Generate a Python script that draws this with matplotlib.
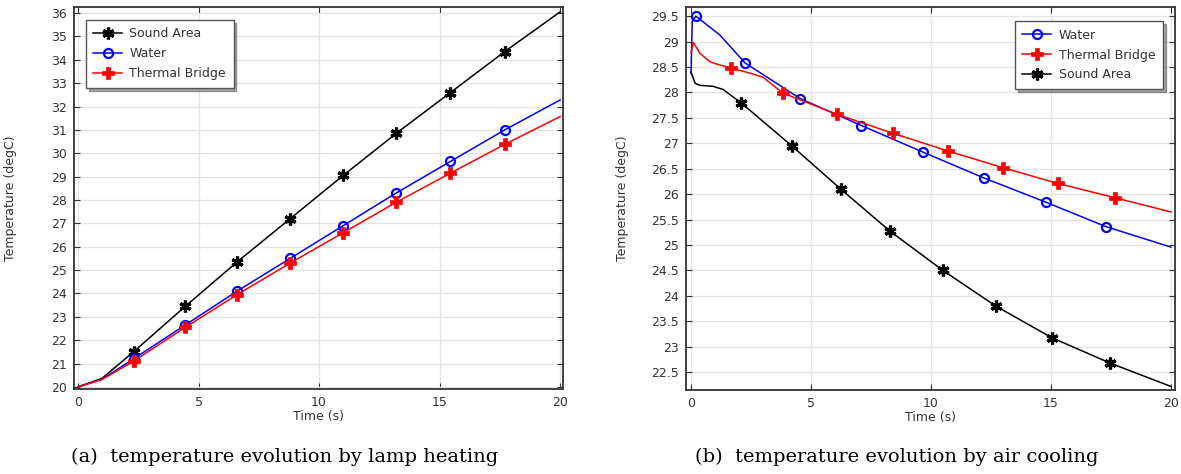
import matplotlib
matplotlib.use("Agg")
import matplotlib.pyplot as plt

# ---- (a) lamp heating ----
heat_t = [0, 1.0, 2.3, 4.45, 6.6, 8.8, 11.0, 13.2, 15.45, 17.7, 20]
heat_sound = [20.0, 20.37, 21.5, 23.45, 25.35, 27.2, 29.05, 30.85, 32.6, 34.35, 36.05]
heat_water = [20.0, 20.33, 21.2, 22.65, 24.1, 25.5, 26.9, 28.3, 29.65, 31.0, 32.28]
heat_bridge = [20.0, 20.32, 21.1, 22.55, 23.95, 25.3, 26.6, 27.9, 29.15, 30.38, 31.57]
heat_marks = [2, 3, 4, 5, 6, 7, 8, 9]

# ---- (b) air cooling ----
cool_water_t = [0, 0.05, 0.2, 1.2, 2.25, 4.55, 7.1, 9.65, 12.2, 14.8, 17.3, 20]
cool_water = [28.38, 29.4, 29.5, 29.13, 28.58, 27.88, 27.35, 26.83, 26.32, 25.84, 25.36, 24.96]
cool_water_marks = [2, 4, 5, 6, 7, 8, 9, 10]

cool_bridge_t = [0, 0.1, 0.37, 0.8, 1.2, 1.67, 2.3, 3.0, 3.82, 6.08, 8.4, 10.7, 13.0, 15.3, 17.67, 20]
cool_bridge = [28.78, 28.98, 28.77, 28.6, 28.54, 28.48, 28.4, 28.3, 27.99, 27.57, 27.2, 26.85, 26.52, 26.21, 25.93, 25.65]
cool_bridge_marks = [5, 8, 9, 10, 11, 12, 13, 14]

cool_sound_t = [0, 0.17, 0.37, 0.92, 1.33, 2.1, 4.2, 6.24, 8.3, 10.5, 12.7, 15.03, 17.46, 20]
cool_sound = [28.4, 28.18, 28.14, 28.12, 28.06, 27.79, 26.95, 26.1, 25.27, 24.5, 23.8, 23.18, 22.68, 22.22]
cool_sound_marks = [5, 6, 7, 8, 9, 10, 11, 12]

captions = ["(a)  temperature evolution by lamp heating",
            "(b)  temperature evolution by air cooling"]

star = dict(color="black", marker=(6, 2, 0), ms=8.5, mew=2.3, lw=1.1)
circ = dict(color="#0000ff", marker="o", ms=6.5, mfc="none", mew=1.6, lw=1.1)
plus = dict(color="#ff0000", marker="P", ms=8, mew=0.5, lw=1.1)

fig = plt.figure(figsize=(11.81, 4.74), dpi=100)
ax1 = fig.add_axes([74/1181, 1-389/474, 489/1181, 382/474])
ax2 = fig.add_axes([686/1181, 1-390/474, 489/1181, 383/474])

ax1.plot(heat_t, heat_sound, markevery=heat_marks, label="Sound Area", **star)
ax1.plot(heat_t, heat_water, markevery=heat_marks, label="Water", **circ)
ax1.plot(heat_t, heat_bridge, markevery=heat_marks, label="Thermal Bridge", **plus)
ax1.set_xlim(-0.17, 20.12)
ax1.set_ylim(19.91, 36.26)
ax1.set_yticks(range(20, 37))

ax2.plot(cool_water_t, cool_water, markevery=cool_water_marks, label="Water", **circ)
ax2.plot(cool_bridge_t, cool_bridge, markevery=cool_bridge_marks, label="Thermal Bridge", **plus)
ax2.plot(cool_sound_t, cool_sound, markevery=cool_sound_marks, label="Sound Area", **star)
ax2.set_xlim(-0.21, 20.17)
ax2.set_ylim(22.15, 29.68)
ax2.set_yticks([22.5 + 0.5*i for i in range(15)])
ax2.set_yticklabels(["%g" % (22.5 + 0.5*i) for i in range(15)])

for ax in (ax1, ax2):
    ax.set_xticks([0, 5, 10, 15, 20])
    ax.grid(True, color="#e3e3e3", lw=0.9)
    ax.set_axisbelow(True)
    ax.tick_params(direction="in", top=True, right=True, length=4,
                   labelsize=9, colors="#333333", pad=5)
    for s in ax.spines.values():
        s.set_color("#333333")
        s.set_linewidth(1.3)
    ax.set_xlabel("Time (s)", fontsize=9, color="#333333", labelpad=1)
    ax.set_ylabel("Temperature (degC)", fontsize=9, color="#333333")
    ax.yaxis.set_label_coords(-0.117, 0.5)

leg_kw = dict(fontsize=9, fancybox=False, shadow=True, framealpha=1,
              edgecolor="#555555", borderaxespad=0, handlelength=2.3,
              borderpad=0.6, labelspacing=0.55, handletextpad=0.6)
l1 = ax1.legend(loc="upper left", bbox_to_anchor=(0.024, 0.966), **leg_kw)
l2 = ax2.legend(loc="upper right", bbox_to_anchor=(0.975, 0.963), **leg_kw)
for lg in (l1, l2):
    for t in lg.get_texts():
        t.set_color("#333333")

fig.text(285/1181, 1-457/474, captions[0], ha="center", va="center",
         fontsize=14, family="DejaVu Serif")
fig.text(897/1181, 1-457/474, captions[1], ha="center", va="center",
         fontsize=14, family="DejaVu Serif")

fig.savefig("out.png", dpi=100)
